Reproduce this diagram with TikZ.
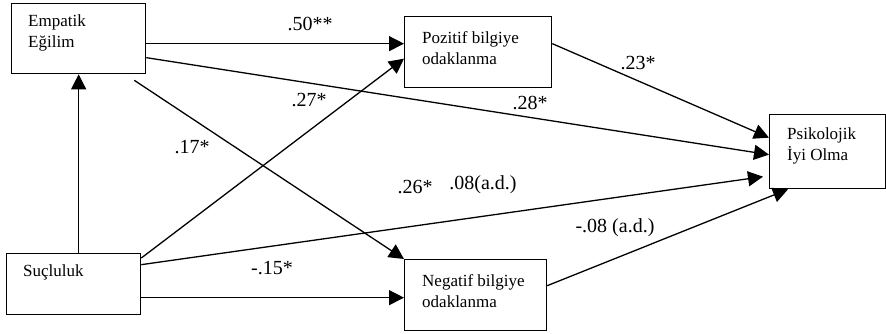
\documentclass[tikz,border=0pt]{standalone}
\usepackage{fontspec}
\setmainfont{Liberation Serif}
\usetikzlibrary{arrows.meta}
\begin{document}
\begin{tikzpicture}[x=1pt, y=-1pt,
    box/.style={draw, line width=1.3pt, inner sep=0pt, anchor=north west},
    boxtext/.style={anchor=west, align=left, inner sep=0pt, font=\fontsize{17}{21}\selectfont},
    coef/.style={inner sep=0pt, font=\fontsize{20}{24}\selectfont},
    arr/.style={line width=1.3pt, -{Triangle[length=15pt, width=15pt]}}]
    \useasboundingbox (0,0) rectangle (886,333);

    % Boxes
    \node[box, minimum width=134, minimum height=70] (emp) at (11,3) {};
    \node[box, minimum width=147, minimum height=71] (poz) at (404,16) {};
    \node[box, minimum width=116, minimum height=74] (psi) at (769,114) {};
    \node[box, minimum width=142, minimum height=71] (neg) at (404,259) {};
    \node[box, minimum width=134, minimum height=61] (suc) at (6,253) {};

    % Box texts
    \node[boxtext] (empT) at (28,33) {Empatik\\Eğilim};
    \node[boxtext] (pozT) at (422,48.5) {Pozitif bilgiye\\odaklanma};
    \node[boxtext] (psiT) at (787,146) {Psikolojik\\İyi Olma};
    \node[boxtext] (negT) at (422,291) {Negatif bilgiye\\odaklanma};
    \node[boxtext] (sucT) at (23,272) {Suçluluk};

    % Edges
    \draw[arr] (suc.north -| emp.south) -- (emp.south); % Suçluluk -> Empatik
    \draw[arr] ([yshift=-5]emp.east) -- ([yshift=8.5]poz.west);
    \draw[arr] ([yshift=-19]emp.east) -- ([yshift=-3]psi.west);
    \draw[arr] ([xshift=-12, yshift=-6]emp.south east) -- (neg.north west);
    \draw[arr] ([yshift=8.5]poz.east) -- ([yshift=14]psi.west);
    \draw[arr] ([yshift=-5]suc.north east) -- ([yshift=-6.5]poz.west);
    \draw[arr] ([yshift=19.5]suc.east) -- ([xshift=-6, yshift=-25]psi.west);
    \draw[arr] ([yshift=-13.5]suc.east) -- ([yshift=-2.5]neg.west);
    \draw[arr] ([yshift=9.5]neg.east) -- ([xshift=19]psi.south west);

    % Coefficients
    \foreach \n/\x/\y/\t in {a/310/24/.50**, b/309/100/.27*, c/192/147/.17*,
                             d/530/103/.28*, e/638/63/.23*, f/415/187/.26*,
                             g/483/185/.08(a.d.), h/272/268/-.15*, i/615/228/-.08 (a.d.)}
        \node[coef] (c\n) at (\x,\y) {\t};
\end{tikzpicture}
\end{document}
